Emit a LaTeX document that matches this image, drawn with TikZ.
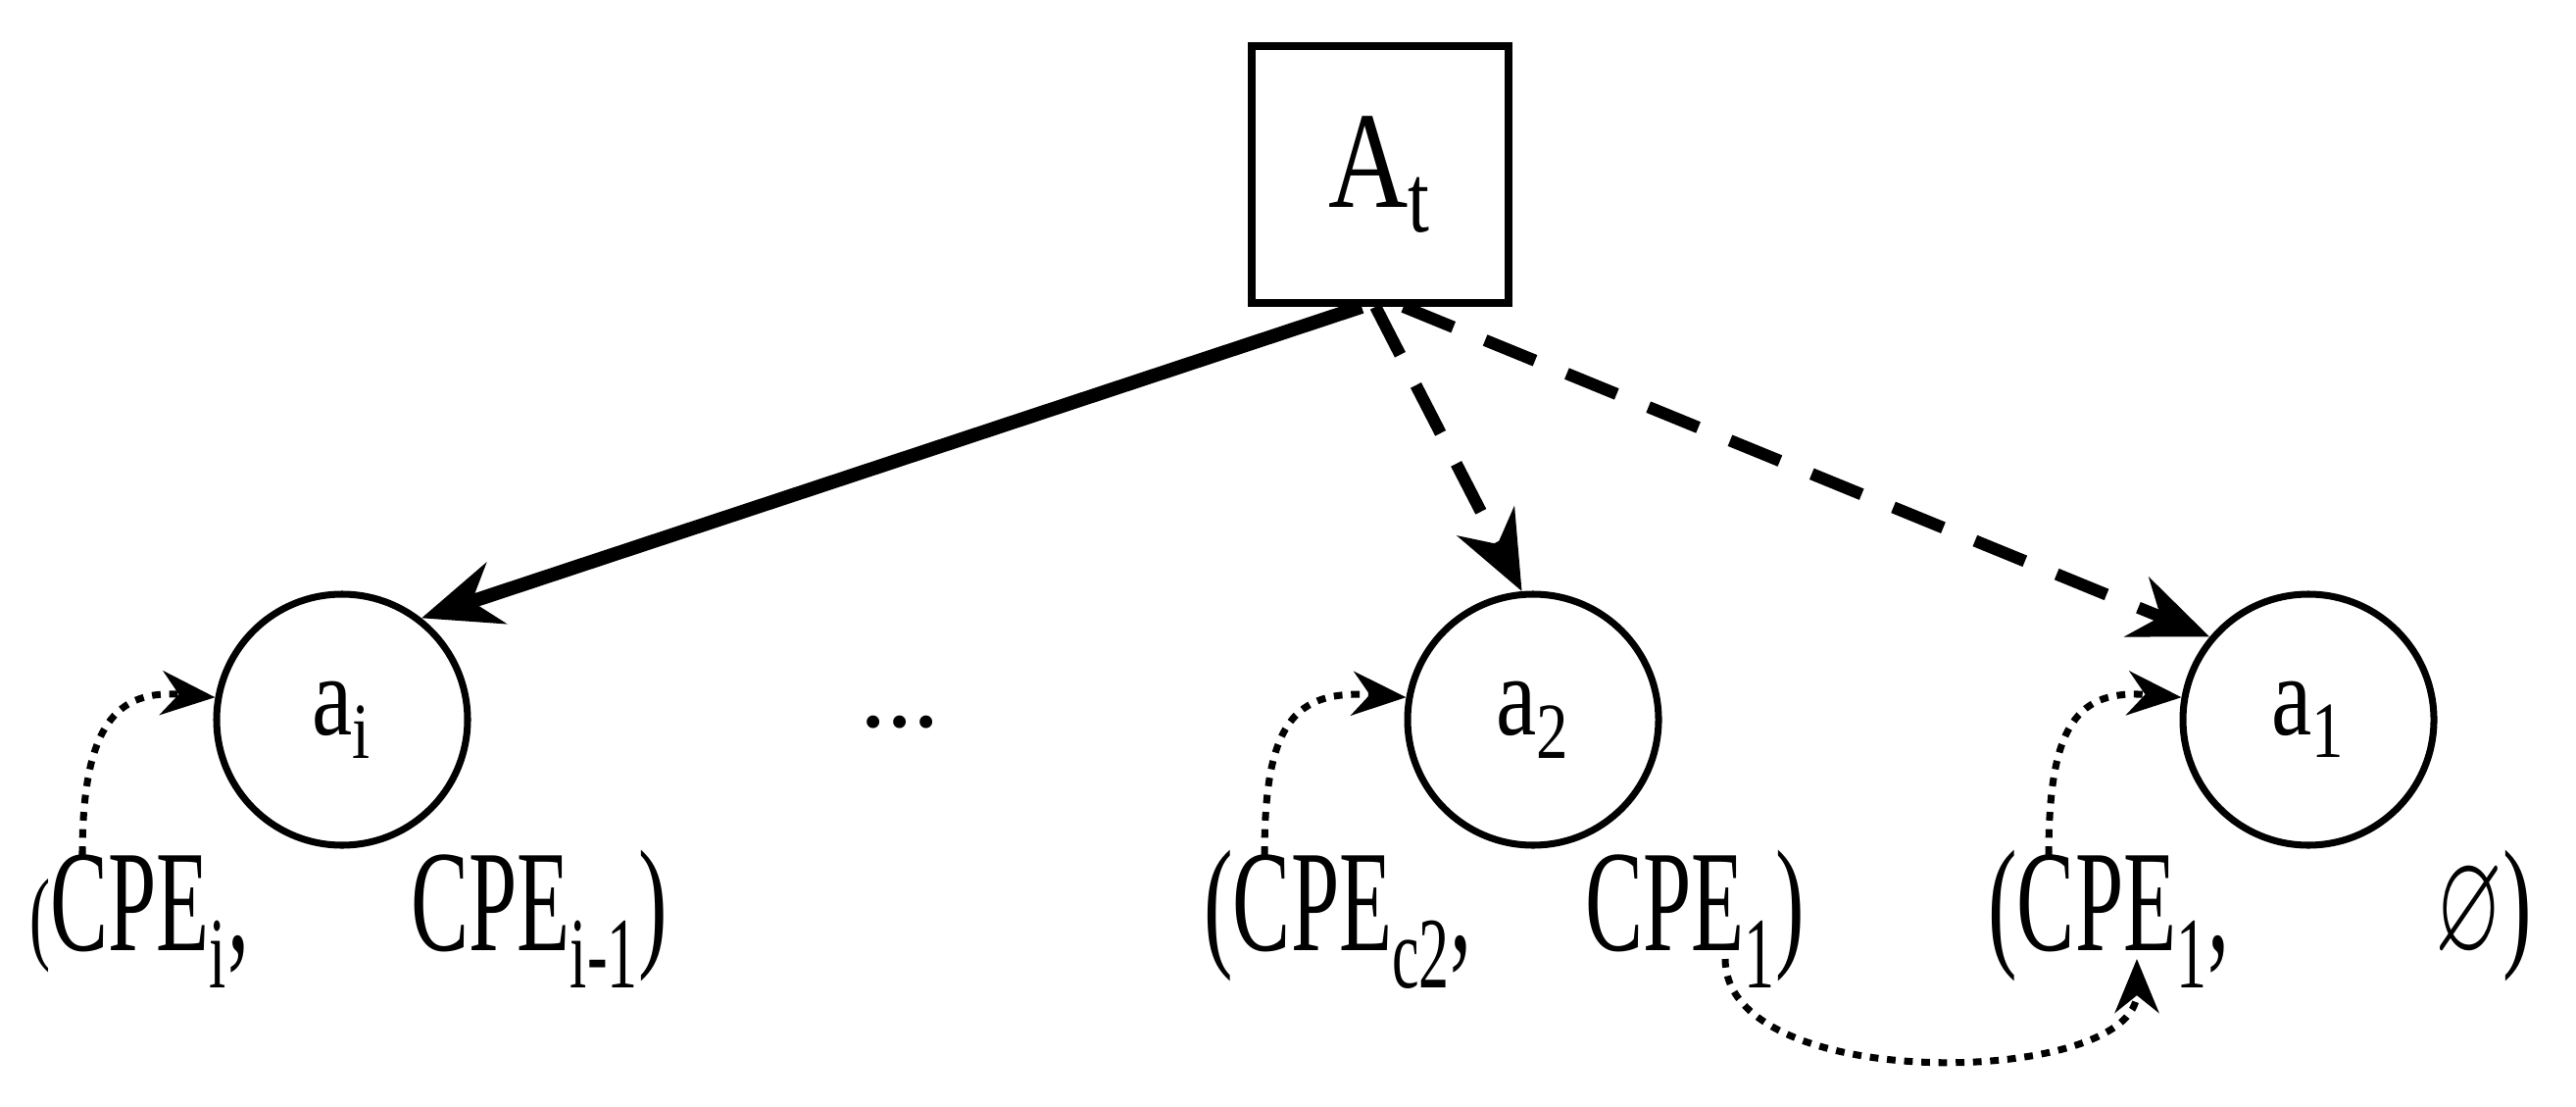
\documentclass[tikz,border=0pt]{standalone}
\usepackage{amssymb}
\usepackage{fontspec}
\setmainfont{Liberation Serif}
\usetikzlibrary{arrows.meta}
\begin{document}
\begin{tikzpicture}[
  circ/.style={circle,draw,line width=2pt,minimum size=2.56cm,inner sep=0pt,font=\fontsize{33}{36}\selectfont},
  lab/.style={anchor=base west,inner sep=0pt,font=\fontsize{42}{48}\selectfont,xscale=0.6,transform shape},
  big/.style={line width=4pt,-{Stealth[length=0.8cm,width=0.65cm]}},
  dsh/.style={line width=3.5pt,-{Stealth[length=0.8cm,width=0.65cm]},dash pattern=on 0.55cm off 0.35cm},
  dot/.style={line width=2pt,dash pattern=on 2.5pt off 2.5pt,-{Stealth[length=0.55cm,width=0.45cm]}}
]
\useasboundingbox (0,0) rectangle (26.28,11.28);
\node[draw,line width=2.2pt,minimum size=2.62cm,inner sep=0pt,font=\fontsize{40}{44}\selectfont] (At) at (14.08,9.50) {\scalebox{0.8}[1]{A\textsubscript{t}}};
\node[circ] (ai) at (3.49,3.94) {\scalebox{0.8}[1]{a\textsubscript{i}}};
\node[circ] (a2) at (15.64,3.94) {\scalebox{0.8}[1]{a\textsubscript{2}}};
\node[circ] (a1) at (23.55,3.94) {\scalebox{0.8}[1]{a\textsubscript{1}}};
\node[inner sep=0pt,font=\fontsize{31}{36}\selectfont] (dots) at (9.18,3.91) {...};
\node[lab] (t1) at (0.30,1.59) {{\fontsize{30}{36}\selectfont(}CPE\textsubscript{i},};
\node[lab] (t2) at (4.19,1.59) {CPE\textsubscript{i-1})};
\node[lab] (t3) at (12.28,1.59) {(CPE\textsubscript{c2},};
\node[lab] (t4) at (16.17,1.59) {CPE\textsubscript{1})};
\node[lab] (t5) at (20.28,1.59) {(CPE\textsubscript{1},};
\node[lab] (t6) at (24.84,1.59) {\(\varnothing\))};
\coordinate (s1) at (0.84,2.56);
\coordinate (s2) at (12.90,2.56);
\coordinate (s3) at (20.90,2.56);
\coordinate (b1) at (17.60,1.50);
\coordinate (b2) at (21.80,1.50);
\draw[big] (At.-98) -- (ai.52);
\draw[dsh] (At.-92) -- (a2.95);
\draw[dsh] (At.-80) -- (a1.140);
\draw[dot] (s1) .. controls (0.84,3.9) and (1.2,4.25) .. (ai.170);
\draw[dot] (s2) .. controls (12.90,3.9) and (13.2,4.25) .. (a2.170);
\draw[dot] (s3) .. controls (20.90,3.9) and (21.2,4.25) .. (a1.170);
\draw[dot] (b1) .. controls (17.60,0.1) and (21.80,0.2) .. (b2);
\end{tikzpicture}
\end{document}
